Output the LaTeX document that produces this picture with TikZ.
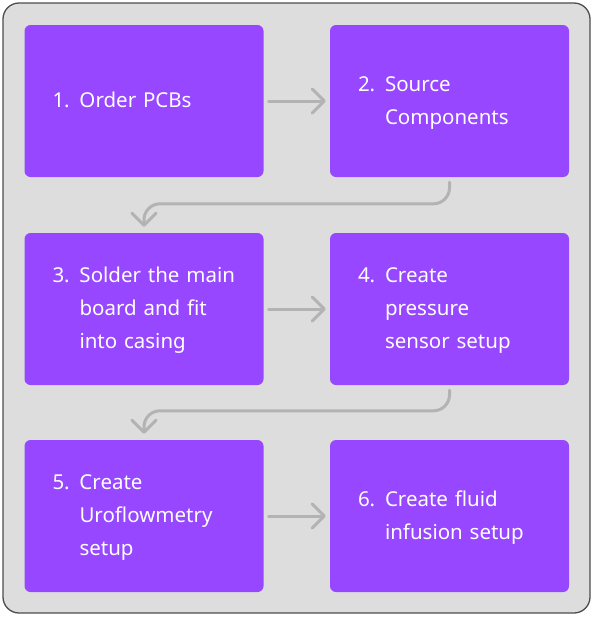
\documentclass[tikz,border=0pt]{standalone}
\usepackage{fontspec}
\setmainfont{Noto Sans}
\usetikzlibrary{arrows.meta,calc}
\definecolor{stepfill}{HTML}{9747FF}
\definecolor{framefill}{HTML}{DDDDDD}
\definecolor{framedraw}{HTML}{4D4D4D}
\definecolor{arrowgray}{HTML}{B3B3B3}
\begin{document}
\begin{tikzpicture}[x=1pt,y=-1pt,
  stepbox/.style={fill=stepfill, rounded corners=6pt, minimum height=152pt,
    text width=183pt, inner xsep=28pt, inner ysep=0pt, align=left, text=white,
    font=\fontsize{20.5}{33}\selectfont},
  flow/.style={draw=arrowgray, line width=3pt, line cap=round, line join=round,
    -{Straight Barb[length=12pt,width=24pt,line cap=round,line join=round]}}]
\useasboundingbox (0,0) rectangle (594,619);
\draw[fill=framefill, draw=framedraw, line width=1.3pt, rounded corners=16pt] (3,3) rectangle (590,613);
\node[stepbox] (b1) at (144,101) {\begin{tabular}{@{}p{27pt}@{}l@{}}1.&Order PCBs\end{tabular}};
\node[stepbox] (b2) at (449.5,101) {\begin{tabular}{@{}p{27pt}@{}l@{}}2.&Source\\&Components\end{tabular}};
\node[stepbox] (b3) at (144,309) {\begin{tabular}{@{}p{27pt}@{}l@{}}3.&Solder the main\\&board and fit\\&into casing\end{tabular}};
\node[stepbox] (b4) at (449.5,309) {\begin{tabular}{@{}p{27pt}@{}l@{}}4.&Create\\&pressure\\&sensor setup\end{tabular}};
\node[stepbox] (b5) at (144,516) {\begin{tabular}{@{}p{27pt}@{}l@{}}5.&Create\\&Uroflowmetry\\&setup\end{tabular}};
\node[stepbox] (b6) at (449.5,516) {\begin{tabular}{@{}p{27pt}@{}l@{}}6.&Create fluid\\&infusion setup\end{tabular}};
\draw[flow, shorten <=5pt, shorten >=4pt] (b1) -- (b2);
\draw[flow, shorten <=5pt, shorten >=4pt] (b3) -- (b4);
\draw[flow, shorten <=5pt, shorten >=4pt] (b5) -- (b6);
\draw[flow, rounded corners=16pt] ([yshift=-5pt]b2.south) |- ([yshift=29pt]b3.north) -- ([yshift=6pt]b3.north);
\draw[flow, rounded corners=16pt] ([yshift=-5pt]b4.south) |- ([yshift=29pt]b5.north) -- ([yshift=6pt]b5.north);
\end{tikzpicture}
\end{document}
